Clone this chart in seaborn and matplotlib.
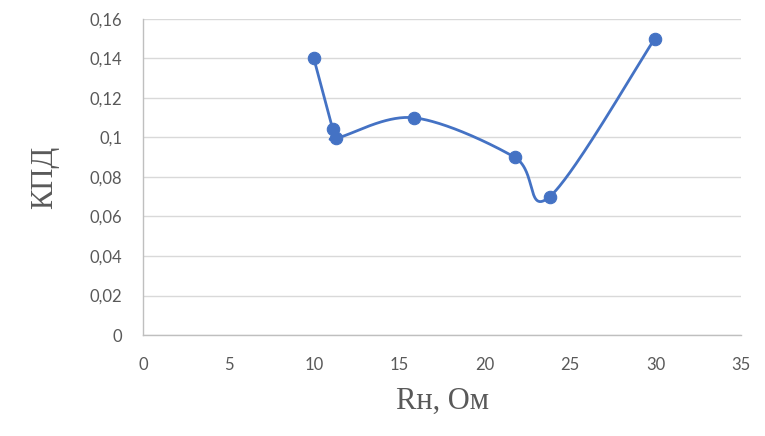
import numpy as np
import matplotlib
matplotlib.use("Agg")
import matplotlib.pyplot as plt
import seaborn as sns
import pandas as pd

# Data
r_load = [10.0, 11.1, 11.3, 15.85, 21.75, 23.8, 29.95]
efficiency = [0.14, 0.1045, 0.0997, 0.11, 0.09, 0.07, 0.15]
x_ticks = [0, 5, 10, 15, 20, 25, 30, 35]
y_ticks = [0, 0.02, 0.04, 0.06, 0.08, 0.10, 0.12, 0.14, 0.16]
y_tick_labels = ["0", "0,02", "0,04", "0,06", "0,08", "0,1", "0,12", "0,14", "0,16"]
x_title = "Rн, Ом"
y_title = "КПД"

sns.set_theme(style="white")
plt.rcParams['font.family'] = ['Lato', 'DejaVu Sans']

fig = plt.figure(figsize=(7.65, 4.36), dpi=100)
ax = fig.add_axes([143/765, 1-335/436, (741-143)/765, (335-19)/436])

# Excel-like smoothed line (Catmull-Rom style Bezier)
pts = np.column_stack([r_load, efficiency])
n = len(pts)
t = 1/6
curve = []
for i in range(n-1):
    p0 = pts[max(i-1, 0)]
    p1 = pts[i]
    p2 = pts[i+1]
    p3 = pts[min(i+2, n-1)]
    c1 = p1 + (p2 - p0) * t
    c2 = p2 - (p3 - p1) * t
    s = np.linspace(0, 1, 60)[:, None]
    seg = ((1-s)**3)*p1 + 3*((1-s)**2)*s*c1 + 3*(1-s)*(s**2)*c2 + (s**3)*p2
    curve.append(seg if i == 0 else seg[1:])
curve = np.vstack(curve)
ax.plot(curve[:, 0], curve[:, 1], color="#4472C4", lw=2.0, solid_capstyle="round", zorder=3)

df = pd.DataFrame({"x": r_load, "y": efficiency})
sns.scatterplot(data=df, x="x", y="y", ax=ax, color="#4472C4", s=80,
                edgecolor="#4472C4", linewidth=0.8, zorder=4)

ax.set_xlim(0, 35)
ax.set_ylim(0, 0.16)
ax.set_xticks(x_ticks)
ax.set_xticklabels([str(v) for v in x_ticks])
ax.set_yticks(y_ticks)
ax.set_yticklabels(y_tick_labels)
ax.tick_params(axis="both", labelsize=12, colors="#595959", length=0)
ax.tick_params(axis="x", pad=16)
ax.tick_params(axis="y", pad=15)
ax.grid(axis="y", color="#d9d9d9", lw=1.0)
ax.grid(axis="x", visible=False)
for side in ["top", "right"]:
    ax.spines[side].set_visible(False)
for side in ["left", "bottom"]:
    ax.spines[side].set_color("#bfbfbf")
    ax.spines[side].set_linewidth(1.0)

ax.set_xlabel(x_title, fontsize=22, color="#595959", family=["Liberation Serif"], labelpad=10)
ax.set_ylabel(y_title, fontsize=22, color="#595959", family=["Liberation Serif"], labelpad=22)

fig.savefig("out.png", dpi=100)
